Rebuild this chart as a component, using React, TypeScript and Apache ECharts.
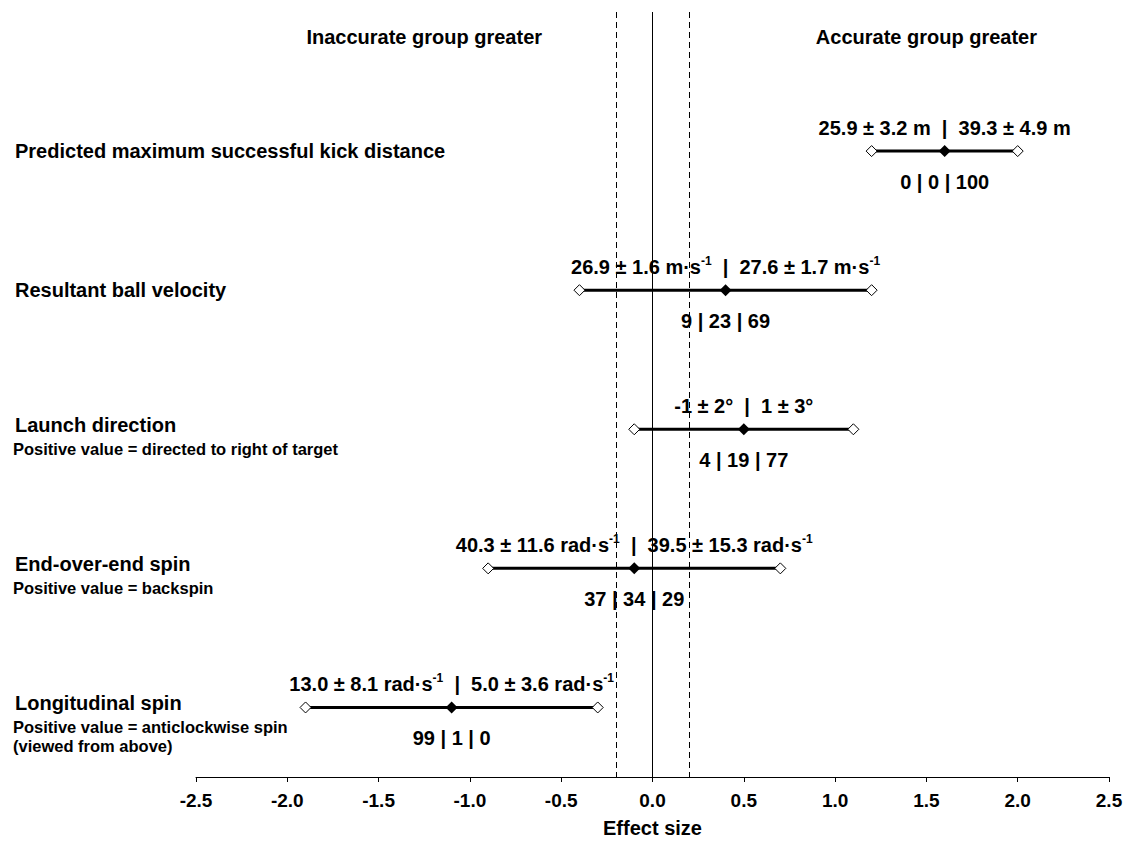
import React, { useEffect, useRef } from 'react';
import * as echarts from 'echarts';

const FONT = '"Liberation Sans", Arial, Helvetica, sans-serif';

const categories = [
  'Predicted maximum successful kick distance',
  'Resultant ball velocity',
  'Launch direction',
  'End-over-end spin',
  'Longitudinal spin',
];
const subtitles: string[][] = [
  [],
  [],
  ['Positive value = directed to right of target'],
  ['Positive value = backspin'],
  ['Positive value = anticlockwise spin', '(viewed from above)'],
];
const effectSize = [1.6, 0.4, 0.5, -0.1, -1.1];
const ciLower = [1.2, -0.4, -0.1, -0.9, -1.9];
const ciUpper = [2.0, 1.2, 1.1, 0.7, -0.3];
const inaccurateGroup = ['25.9 ± 3.2 m', '26.9 ± 1.6 m·s^-1', '-1 ± 2°', '40.3 ± 11.6 rad·s^-1', '13.0 ± 8.1 rad·s^-1'];
const accurateGroup = ['39.3 ± 4.9 m', '27.6 ± 1.7 m·s^-1', '1 ± 3°', '39.5 ± 15.3 rad·s^-1', '5.0 ± 3.6 rad·s^-1'];
const probabilities = ['0 | 0 | 100', '9 | 23 | 69', '4 | 19 | 77', '37 | 34 | 29', '99 | 1 | 0'];
const refLines = [-0.2, 0, 0.2];
const headers = ['Inaccurate group greater', 'Accurate group greater'];
const headerX = [-1.25, 1.5];
const xMin = -2.5;
const xMax = 2.5;
const xInterval = 0.5;
const axisTitle = 'Effect size';

function richify(s: string): string {
  const parts = s.split('^-1');
  let out = '';
  parts.forEach((p, i) => {
    if (p.length) out += `{t|${p}}`;
    if (i < parts.length - 1) out += '{sup|-1}';
  });
  return out;
}

export default function App() {
  const ref = useRef<HTMLDivElement>(null);
  useEffect(() => {
    if (!ref.current) return;
    const chart = echarts.init(ref.current, null, { renderer: 'svg' });
    const rows = categories.map((_, i) => i + 1);
    const option: any = {
      animation: false,
      backgroundColor: '#fff',
      textStyle: { fontFamily: FONT, color: '#000' },
      grid: { left: 196, right: 22, top: 12, bottom: 65, containLabel: false },
      xAxis: {
        type: 'value',
        min: xMin,
        max: xMax,
        interval: xInterval,
        name: axisTitle,
        nameLocation: 'middle',
        nameGap: 41,
        nameTextStyle: { fontSize: 20, fontWeight: 'bold', color: '#000', fontFamily: FONT },
        axisLine: { show: true, onZero: false, lineStyle: { color: '#000', width: 1 } },
        axisTick: { show: true, length: 5, lineStyle: { color: '#000' } },
        axisLabel: {
          fontSize: 19,
          fontWeight: 'bold',
          color: '#000',
          fontFamily: FONT,
          margin: 14,
          formatter: (v: number) => v.toFixed(1),
        },
        splitLine: { show: false },
      },
      yAxis: {
        type: 'value',
        inverse: true,
        min: 0,
        max: 5.5,
        show: false,
      },
      series: [
        {
          type: 'custom',
          data: rows.map((r, i) => [ciLower[i], ciUpper[i], r]),
          encode: { x: [0, 1], y: 2 },
          renderItem: (params: any, api: any) => {
            const p1 = api.coord([api.value(0), api.value(2)]);
            const p2 = api.coord([api.value(1), api.value(2)]);
            return {
              type: 'line',
              shape: { x1: p1[0], y1: p1[1], x2: p2[0], y2: p2[1] },
              style: { stroke: '#000', lineWidth: 3 },
            };
          },
          z: 2,
        },
        {
          type: 'scatter',
          symbol: 'diamond',
          symbolSize: 11,
          itemStyle: { color: '#fff', borderColor: '#000', borderWidth: 1, opacity: 1 },
          data: rows.flatMap((r, i) => [[ciLower[i], r], [ciUpper[i], r]]),
          z: 3,
          markLine: {
            silent: true,
            symbol: 'none',
            label: { show: false },
            data: refLines.map((v) => ({
              xAxis: v,
              lineStyle: { color: '#000', width: 1, type: v === 0 ? 'solid' : [6, 4] },
            })),
          },
        },
        {
          type: 'scatter',
          symbol: 'diamond',
          symbolSize: 12,
          itemStyle: { color: '#000', opacity: 1 },
          data: rows.map((r, i) => [effectSize[i], r]),
          z: 4,
          label: {
            show: true,
            position: 'top',
            distance: 5,
            color: '#000',
            textBorderWidth: 0,
            formatter: (p: any) =>
              richify(inaccurateGroup[p.dataIndex]) + '{t|  |  }' + richify(accurateGroup[p.dataIndex]),
            rich: {
              t: { fontSize: 20, fontWeight: 'bold', color: '#000', fontFamily: FONT, lineHeight: 24 },
              sup: { fontSize: 12, fontWeight: 'bold', color: '#000', fontFamily: FONT, lineHeight: 14, verticalAlign: 'top' },
            },
          },
        },
        {
          type: 'scatter',
          symbol: 'circle',
          symbolSize: 1,
          itemStyle: { color: 'rgba(0,0,0,0)', opacity: 1 },
          data: rows.map((r, i) => [effectSize[i], r]),
          z: 4,
          label: {
            show: true,
            position: 'bottom',
            distance: 20,
            formatter: (p: any) => probabilities[p.dataIndex],
            fontSize: 20,
            fontWeight: 'bold',
            color: '#000',
            opacity: 1,
            textBorderWidth: 0,
            fontFamily: FONT,
          },
        },
      ],
    };
    chart.setOption(option);

    const graphics: any[] = [];
    const txt = (text: string, x: number, y: number, size: number, align: string) => ({
      type: 'text',
      x,
      y,
      silent: true,
      style: {
        text,
        fontSize: size,
        fontWeight: 'bold',
        fontFamily: FONT,
        fill: '#000',
        align,
        verticalAlign: 'middle',
      },
    });
    categories.forEach((c, i) => {
      const y = chart.convertToPixel({ yAxisIndex: 0 }, i + 1) as number;
      const subs = subtitles[i];
      const titleShift = subs.length === 0 ? 0 : -4;
      graphics.push(txt(c, 15, y + titleShift, 20, 'left'));
      subs.forEach((s, j) => {
        graphics.push(txt(s, 13, y + 20 + j * 19, 16.5, 'left'));
      });
    });
    headers.forEach((h, i) => {
      const x = chart.convertToPixel({ xAxisIndex: 0 }, headerX[i]) as number;
      graphics.push(txt(h, x, 37, 20, 'center'));
    });
    chart.setOption({ graphic: graphics });

    return () => chart.dispose();
  }, []);
  return (
    <div
      ref={ref}
      style={{ position: 'fixed', left: 0, top: 0, width: 1131, height: 843, background: '#fff' }}
    />
  );
}
